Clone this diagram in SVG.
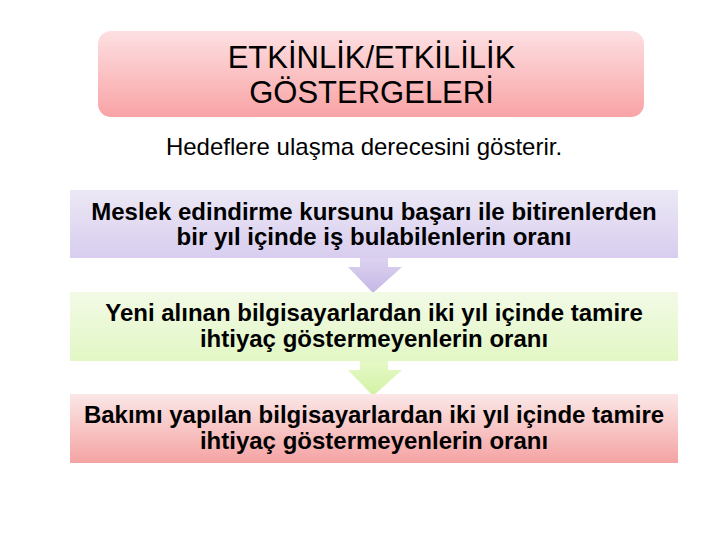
<svg xmlns="http://www.w3.org/2000/svg" width="720" height="540" viewBox="0 0 720 540">
<defs>
<linearGradient id="gTitle" x1="0" y1="0" x2="0" y2="1"><stop offset="0" stop-color="#fde0e2"/><stop offset="1" stop-color="#f9a3a5"/></linearGradient>
<linearGradient id="gPurple" x1="0" y1="0" x2="0" y2="1"><stop offset="0" stop-color="#ece8f5"/><stop offset="1" stop-color="#d8cdef"/></linearGradient>
<linearGradient id="gGreen" x1="0" y1="0" x2="0" y2="1"><stop offset="0" stop-color="#f2fae6"/><stop offset="1" stop-color="#e2f7c4"/></linearGradient>
<linearGradient id="gPink" x1="0" y1="0" x2="0" y2="1"><stop offset="0" stop-color="#fbe7e7"/><stop offset="1" stop-color="#f5a3a3"/></linearGradient>
<linearGradient id="gArrowP" x1="0" y1="0" x2="0" y2="1"><stop offset="0" stop-color="#ddd3f0"/><stop offset="1" stop-color="#c6b7e6"/></linearGradient>
<linearGradient id="gArrowG" x1="0" y1="0" x2="0" y2="1"><stop offset="0" stop-color="#e6f9c8"/><stop offset="1" stop-color="#d2f2a4"/></linearGradient>
</defs>
<style>
text{font-family:"Liberation Sans",Arial,sans-serif;fill:#000;text-anchor:middle}
.t{font-size:31px}
.s{font-size:24px}
.b{font-size:24px;font-weight:bold}
</style>
<rect width="720" height="540" fill="#fff"/>
<g id="connectors">
<polygon points="360,257 388,257 388,267 402,267 373,293 348,267 360,267" fill="url(#gArrowP)"/>
<polygon points="360,360 388,360 388,370 402,370 373,396 348,370 360,370" fill="url(#gArrowG)"/>
</g>
<g id="title">
<rect x="98" y="31" width="546" height="86" rx="13" fill="url(#gTitle)"/>
<text class="t" x="371.5" y="68">ETKİNLİK/ETKİLİLİK</text>
<text class="t" x="371.5" y="103">GÖSTERGELERİ</text>
</g>
<g id="subtitle">
<text class="s" x="364" y="155">Hedeflere ulaşma derecesini gösterir.</text>
</g>
<g id="node1">
<rect x="70" y="190" width="608" height="68" fill="url(#gPurple)"/>
<text class="b" x="374" y="220">Meslek edindirme kursunu başarı ile bitirenlerden</text>
<text class="b" x="374" y="245">bir yıl içinde iş bulabilenlerin oranı</text>
</g>
<g id="node2">
<rect x="70" y="292" width="608" height="69" fill="url(#gGreen)"/>
<text class="b" x="374" y="321">Yeni alınan bilgisayarlardan iki yıl içinde tamire</text>
<text class="b" x="374" y="347">ihtiyaç göstermeyenlerin oranı</text>
</g>
<g id="node3">
<rect x="70" y="394" width="608" height="69" fill="url(#gPink)"/>
<text class="b" x="374" y="423">Bakımı yapılan bilgisayarlardan iki yıl içinde tamire</text>
<text class="b" x="374" y="449">ihtiyaç göstermeyenlerin oranı</text>
</g>
</svg>
